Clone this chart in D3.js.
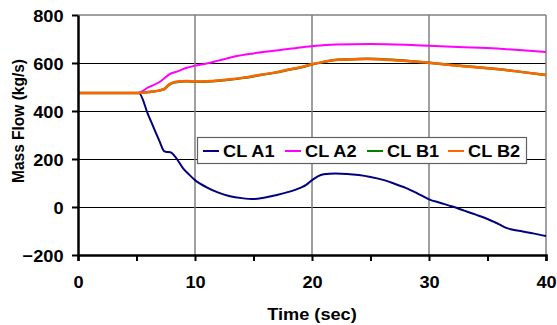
<!DOCTYPE html>
<html><head><meta charset="utf-8">
<script src="https://cdn.jsdelivr.net/npm/d3@7"></script>
<style>body{margin:0;background:#fff}svg{display:block}text{font-family:"Liberation Sans",Arial,sans-serif;font-weight:bold;fill:#000}</style>
</head><body><div id="chart"></div>
<script>
const seriesNames = ["CL A1", "CL A2", "CL B1", "CL B2"];
const seriesColors = ["#000080", "#FF00FF", "#008000", "#FF6600"];
const xTicks = [0, 10, 20, 30, 40];
const yTicks = [-200, 0, 200, 400, 600, 800];

const tA1 = [0, 5.2, 6, 6.5, 7, 7.3, 7.5, 7.9, 8.3, 9, 9.5, 10, 11, 12, 13, 14, 15, 16, 17, 18, 19, 19.5, 20, 20.5, 21, 22, 23, 24, 25, 26, 27, 28, 29, 30, 31, 32, 33, 34, 35, 35.5, 36, 36.6, 37, 38, 39, 40];
const vA1 = [475, 475, 384, 327, 270, 236, 230, 228, 210, 160, 135, 112, 82, 60, 45, 37, 33, 40, 50, 63, 80, 92, 112, 128, 136, 140, 138, 133, 125, 114, 98, 80, 57, 32, 17, 2, -15, -32, -50, -61, -72, -87, -93, -102, -111, -121];

const tA2 = [0, 5.1, 6, 7, 7.2, 7.8, 8.5, 9.3, 10, 11, 12, 13.3, 15, 17.3, 19, 20, 22, 25, 28, 30, 33, 35, 38, 40];
const vA2 = [475, 475, 498, 522, 529, 553, 565, 580, 589, 598, 610, 626, 640, 654, 665, 670, 677, 679, 676, 672, 666, 662, 653, 646];

const tB1 = [0, 5.2, 6, 7, 7.4, 7.8, 8.3, 9.3, 10, 11, 12, 13, 14, 15.6, 17, 17.8, 19, 20, 21, 21.8, 23, 24.7, 26, 27.5, 30, 31.5, 33.2, 36, 38, 40];
const vB1 = [475, 475, 479, 486, 492, 510, 520, 524, 522, 523, 526, 531, 537, 550, 561, 570, 581, 594, 604, 611, 615, 618, 616, 611, 601, 594, 586, 574, 562, 550];

const tB2 = [0, 5.2, 6, 7, 7.4, 7.8, 8.3, 9.3, 10, 11, 12, 13, 14, 15.6, 17, 17.8, 19, 20, 21, 21.8, 23, 24.7, 26, 27.5, 30, 31.5, 33.2, 36, 38, 40];
const vB2 = [475, 475, 479, 486, 492, 511, 521, 525, 523, 524, 527, 532, 538, 551, 562, 571, 582, 595, 605, 612, 615, 617, 615, 610, 601, 594, 585, 574, 562, 550];

const series = [
  {name: seriesNames[0], color: seriesColors[0], t: tA1, v: vA1, w: 2},
  {name: seriesNames[1], color: seriesColors[1], t: tA2, v: vA2, w: 2},
  {name: seriesNames[2], color: seriesColors[2], t: tB1, v: vB1, w: 2.5},
  {name: seriesNames[3], color: seriesColors[3], t: tB2, v: vB2, w: 2.5}
];

const W = 557, H = 325;
const m = {left: 78, right: 11, top: 15, bottom: 70};
const SX = 1.07;
const svg = d3.select("#chart").append("svg").attr("width", W).attr("height", H);
const x = d3.scaleLinear().domain([0, 40]).range([m.left, W - m.right]);
const y = d3.scaleLinear().domain([-200, 800]).range([H - m.bottom, m.top]);

// horizontal gridlines
svg.append("g").selectAll("line").data(yTicks.filter(d => d > -200 && d < 800)).join("line")
  .attr("x1", x(0)).attr("x2", x(40)).attr("y1", d => y(d)).attr("y2", d => y(d))
  .attr("stroke", "#000").attr("stroke-width", 1).attr("shape-rendering", "crispEdges");
// vertical gridlines
svg.append("g").selectAll("line").data(xTicks.filter(d => d > 0)).join("line")
  .attr("x1", d => x(d)).attr("x2", d => x(d)).attr("y1", y(800)).attr("y2", y(-200))
  .attr("stroke", "#808080").attr("stroke-width", 1.5);
// top border
svg.append("line").attr("x1", x(0)).attr("x2", x(40)).attr("y1", y(800)).attr("y2", y(800))
  .attr("stroke", "#808080").attr("stroke-width", 1.5);

// lines
const line = d3.line().x(d => x(d[0])).y(d => y(d[1])).curve(d3.curveMonotoneX);
svg.append("g").selectAll("path").data(series).join("path")
  .attr("d", s => line(s.t.map((t, i) => [t, s.v[i]])))
  .attr("fill", "none").attr("stroke", s => s.color).attr("stroke-width", s => s.w)
  .attr("stroke-linejoin", "round");

// axes
const xAxis = d3.axisBottom(x).tickValues(d3.range(0, 41, 5)).tickSize(6).tickFormat(d => xTicks.includes(d) ? d : "");
const gx = svg.append("g").attr("transform", `translate(0,${y(-200)})`).call(xAxis);
gx.select(".domain").attr("stroke", "#000").attr("stroke-width", 2.5);
gx.selectAll(".tick line").attr("stroke", "#000").attr("stroke-width", 2);
gx.selectAll(".tick text").attr("font-size", 17).attr("dy", null).attr("y", 33)
  .attr("transform", `scale(${SX},1)`)
  .attr("font-family", '"Liberation Sans",Arial,sans-serif').attr("font-weight", "bold");

const yAxis = d3.axisLeft(y).tickValues(yTicks).tickSize(6).tickSizeOuter(0);
const gy = svg.append("g").attr("transform", `translate(${x(0)},0)`).call(yAxis);
gy.select(".domain").attr("stroke", "#000").attr("stroke-width", 2.5);
gy.selectAll(".tick line").attr("stroke", "#000").attr("stroke-width", 2);
gy.selectAll(".tick text").attr("font-size", 17).attr("x", -14.5 / SX).attr("dy", "0.36em")
  .attr("transform", `scale(${SX},1)`)
  .attr("font-family", '"Liberation Sans",Arial,sans-serif').attr("font-weight", "bold");

// titles
svg.append("text").attr("transform", `translate(${(x(0) + x(40)) / 2},320) scale(${SX},1)`).attr("text-anchor", "middle")
  .attr("font-size", 17).text("Time (sec)");
svg.append("text").attr("transform", `translate(24,121) rotate(-90) scale(1,${SX})`).attr("text-anchor", "middle")
  .attr("font-size", 15.5).text("Mass Flow (kg/s)");

// legend
const lg = svg.append("g");
lg.append("rect").attr("x", 197.5).attr("y", 137.5).attr("width", 329).attr("height", 26)
  .attr("fill", "#fff").attr("stroke", "#606060").attr("stroke-width", 1.2);
const lx = [203, 285, 367, 448];
const items = lg.selectAll("g").data(series).join("g").attr("transform", (d, i) => `translate(${lx[i]},151)`);
items.append("line").attr("x1", 0).attr("x2", 16).attr("stroke", d => d.color).attr("stroke-width", 2);
items.append("text").attr("transform", `translate(20,0) scale(${SX},1)`).attr("dy", "0.36em").attr("font-size", 17).text(d => d.name);
</script></body></html>
